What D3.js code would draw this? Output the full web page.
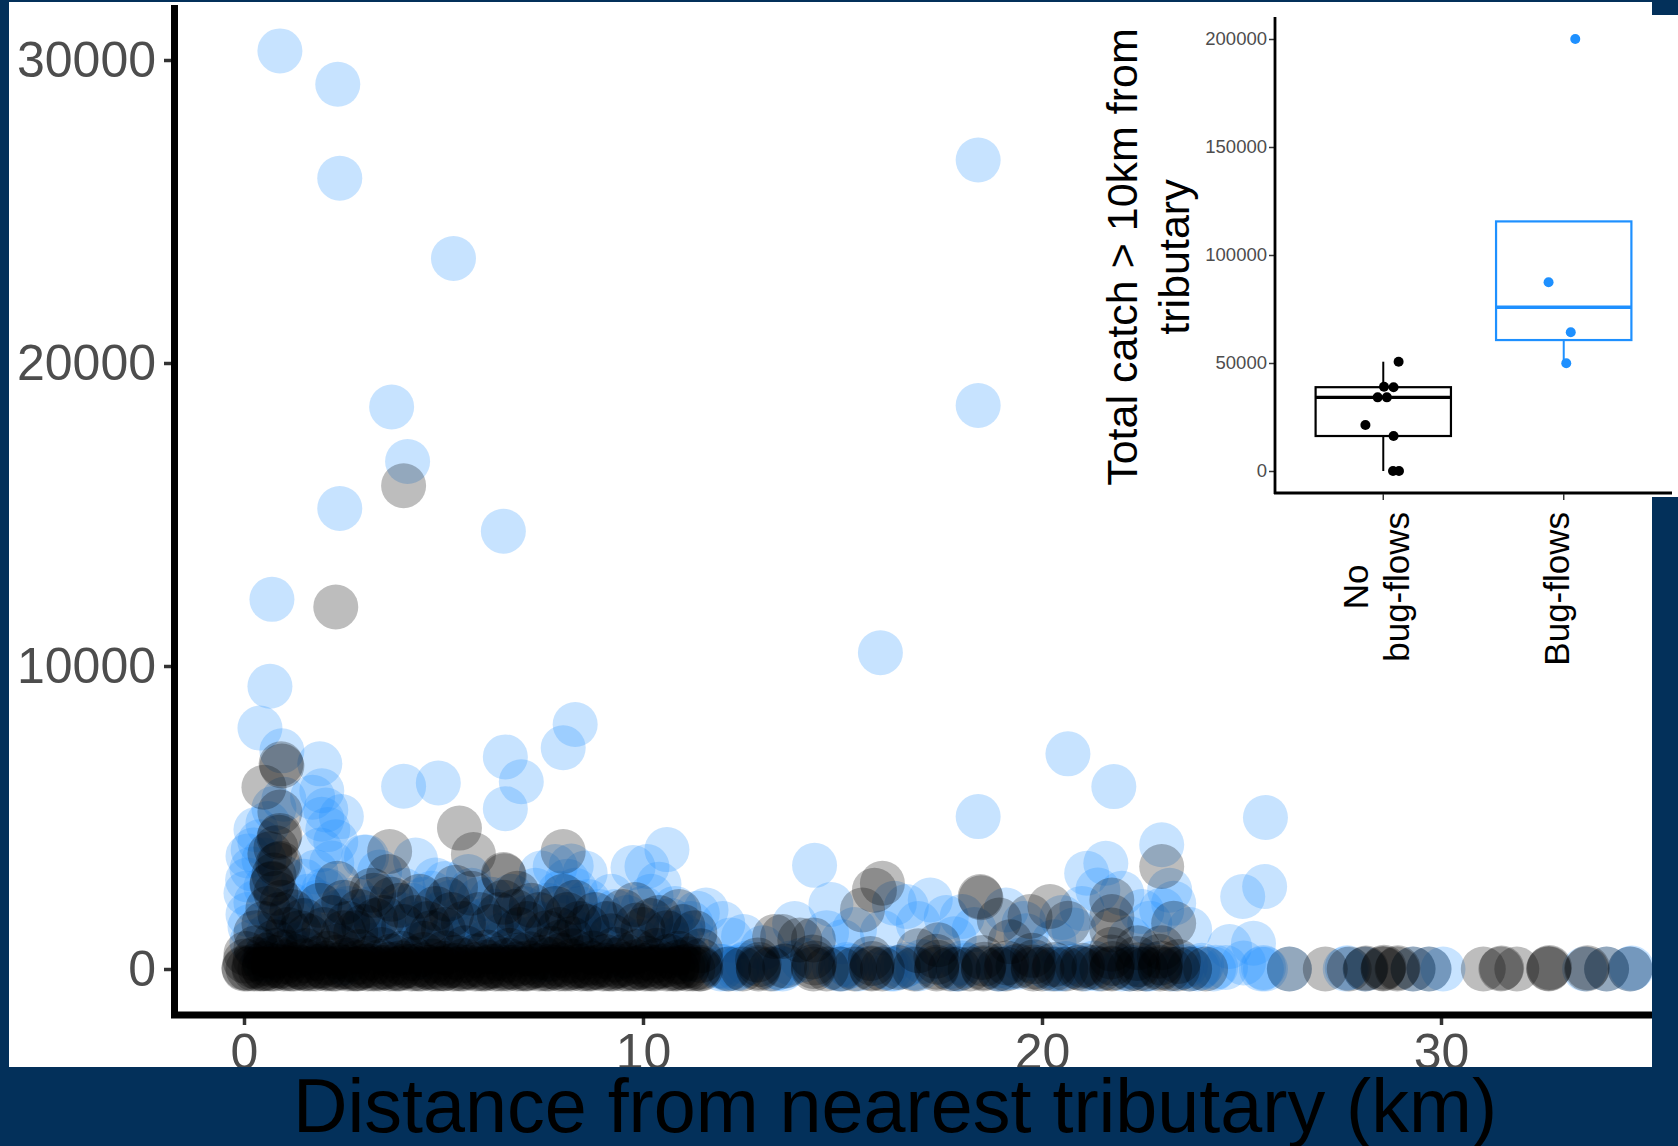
<!DOCTYPE html>
<html>
<head>
<meta charset="utf-8">
<script src="https://cdn.jsdelivr.net/npm/d3@7"></script>
<style>
  body { margin: 0; background: #03305a; }
  svg { display: block; }
</style>
</head>
<body>
<script>

// ---- main scatter data: [distance km, catch] ----

// isolated high points, bug-flow years
var blueUpper = [
  [0.9,30300],[2.35,29200],[2.4,26100],[5.25,23450],[3.7,18550],[4.1,16750],
  [2.4,15200],[6.5,14450],[0.7,12200],[0.65,9330],[0.4,7950],[0.95,7200],
  [1.9,6770],[1.95,5880],[4.0,6030],[4.87,6140],[6.55,7000],[6.95,6180],
  [6.55,5290],[8.3,8070],[8.0,7300],[18.4,26700],[18.4,18600],[15.95,10440],
  [20.65,7100],[21.8,6020],[18.4,5030],[25.6,5000]
];

var blueMid = [
  [0.3,4600],[0.1,3730],[0.23,3930],[0.09,2940],[0.5,3600],[0.6,4800],[1.0,5600],
  [0.2,3300],[0.05,2500],[0.3,2200],[0.1,1800],[1.0,3000],[0.75,5300],[0.4,4200],
  [0.15,1400],[0.55,2700],
  [2.05,5250],[2.44,5030],[1.95,4940],[1.72,5670],[2.1,4600],[1.91,3930],[2.2,3500],
  [1.8,3200],[2.3,4200],[2.0,2600],[2.11,2580],[1.85,2200],[1.5,2900],[2.6,2000],[1.3,1700],
  [3.0,3700],[3.07,3700],[3.4,3200],[4.3,3600],[4.8,2940],[5.04,2820],[5.62,3050],
  [5.7,2600],[4.0,2600],[4.5,2300],[3.2,2000],[6.2,2300],[7.0,2000],[7.45,3170],
  [7.8,3380],[8.55,3170],[8.63,2230],[8.2,3400],[8.1,2900],[7.9,2500],[8.4,2000],
  [9.3,1900],[9.75,3350],[10.1,3380],[10.6,3940],[10.2,2400],[10.8,2000],[11.36,1840],
  [6.0,1600],[4.9,1800],[3.8,1500],[2.7,1600],[5.3,1400],[7.4,1500],[9.0,1500],
  [10.5,1300],[6.6,1200],[8.8,1100],[11.0,1100],
  [0.2,900],[0.6,1100],[1.1,800],[1.7,1000],[2.2,900],[2.9,1100],[3.3,800],[3.7,1000],
  [4.1,1200],[4.6,900],[5.1,1000],[5.6,1200],[6.1,900],[6.4,1100],[6.8,800],[7.2,1000],
  [7.7,1100],[8.3,1200],[8.9,900],[9.4,1100],[9.9,900],[10.4,1000],[10.9,800],[11.3,900],
  [0.9,1500],[1.2,2100],[1.4,1600],[1.6,2400],[2.4,1900],[2.8,2300],[3.1,1700],[3.5,2400],
  [3.9,1800],[4.2,2100],[4.4,1500],[4.7,2500],[5.2,2200],[5.5,1700],[5.9,2300],[6.3,1900],
  [6.7,2400],[7.1,1700],[7.3,2600],[7.6,2100],[8.0,1700],[8.3,2600],[8.5,1500],[8.9,1900],
  [9.2,2400],[9.6,1700],[10.0,2000],[10.4,2800],[10.7,1600],[11.2,1500],[1.0,1000],
  [2.1,1100],[3.2,1000],[4.3,800],[5.4,1000],[6.5,900],[7.5,800],[8.7,1000],[9.7,800],
  [10.8,1200],
  [12.2,960],[12.52,1070],[11.58,1950],[14.3,3420],[14.71,2130],[16.3,2170],[16.6,2060],
  [17.2,2280],[18.0,1730],[19.1,1950],[19.55,1500],[20.8,1290],[21.12,3160],[21.6,3490],
  [21.4,2610],[23.0,4100],[23.0,1950],[23.3,2170],[22.7,1510],[24.7,740],[25.58,2720],
  [25.03,2390],[16.0,1200],[13.0,700],[15.0,900],[17.8,1000],[20.3,900],[22.2,1000],
  [25.3,850],[12.0,1500],[13.8,1500],[14.6,1200],[15.3,1300],[16.9,1500],[17.6,1700],
  [18.3,1300],[19.6,1100],[20.5,1700],[21.0,2000],[22.0,2500],[22.5,1900],[23.2,2600],
  [23.7,1300]
];

var blueBase = [
  [0.5,300],[1.5,500],[2.5,200],[3.5,600],[4.5,400],[5.5,700],[6.5,500],[7.5,300],
  [8.5,800],[9.5,400],[10.5,600],[11.2,300],
  [11.9,100],[12.1,0],[12.4,50],[12.6,200],[13.3,0],[13.6,100],[14.0,300],[14.9,0],
  [15.1,150],[15.4,0],[16.2,0],[16.5,80],[16.9,0],[17.0,250],[17.8,0],[18.1,120],
  [18.9,0],[19.2,50],[19.5,300],[20.2,0],[20.5,0],[20.8,100],[21.1,0],[21.3,200],
  [22.0,0],[22.3,60],[22.6,0],[23.3,0],[23.6,100],[23.9,0],[23.95,40],[24.3,0],
  [24.35,60],[24.6,50],
  [11.95,0],[12.0,80],[12.15,30],[12.35,0],[12.5,120],[13.4,50],[13.5,0],[13.7,200],
  [14.8,50],[15.0,0],[15.2,100],[16.1,60],[16.3,0],[16.6,150],[16.8,40],[17.7,80],
  [17.9,0],[18.0,200],[18.9,100],[19.0,0],[19.4,60],[20.1,100],[20.4,0],[20.6,180],
  [21.2,60],[21.4,0],[22.1,100],[22.2,0],[22.7,0],[22.8,150],[23.5,60],[23.7,0],[24.0,120],
  [25.05,200],[25.5,0],[25.55,50],[25.6,0],[26.2,0],[27.6,0],[27.65,40],[28.1,0],
  [29.3,0],[29.7,0],[30.05,0],[33.6,0],[34.15,0],[34.74,0],[34.78,30]
];

// no bug-flow years
var blackUpper = [
  [4.0,15950],[2.3,11950],[0.93,6770],[0.95,6700],[0.5,6000],[0.9,5180],[0.9,4410],
  [0.88,4350],[5.4,4650],[5.75,3780],[6.5,3120],[6.52,3080],[6.85,2500],[8.0,3880],
  [3.65,3880],[3.62,3050],[3.25,2430],[0.9,3490],[0.85,3450],[0.71,2830],[0.7,2800],
  [2.34,2830],[0.8,4000],[0.75,3100],[0.95,2200],[0.65,3800]
];

var blackMid = [
  [0.6,2000],[0.9,1800],[0.5,1500],[0.8,2500],[0.3,1200],[1.1,1300],[1.6,1100],
  [2.0,1300],[2.5,1200],[3.0,1400],[3.5,1700],[3.9,2100],[4.3,1700],[4.8,2000],
  [5.0,1300],[5.2,1800],[5.9,1800],[6.5,2200],[6.9,1300],[7.2,2100],[7.6,1200],
  [8.0,2400],[8.1,1800],[7.9,1300],[8.2,1000],[8.6,1400],[9.2,1100],[9.8,2130],
  [9.84,1450],[10.2,1600],[10.6,1200],[11.0,1400],[4.6,1500],[2.8,1200],[1.4,1200],
  [1.2,1900],[1.5,1600],[1.9,2100],[2.2,1700],[2.6,1500],[2.9,1900],[3.3,1600],[3.7,2300],
  [4.0,1400],[4.4,2400],[4.7,1200],[5.1,2300],[5.5,1500],[5.7,2500],[6.2,1400],[6.4,1800],
  [6.8,1900],[7.1,1500],[7.4,1800],[7.8,2000],[8.3,2200],[8.4,1500],[8.8,1800],[9.1,1500],
  [9.5,1900],[10.0,1300],[10.4,1700],[10.9,1900],[11.3,1200],[3.2,2600],[5.3,2700],[2.5,2200],
  [16.0,2830],[18.45,2390],[18.47,2350],[23.0,3380],[21.75,2280],[20.65,1510],
  [19.7,1730],[20.2,2060],[15.5,1950],[15.8,2600],[21.75,1730],[21.75,1290],
  [13.3,1070],[13.93,960],[14.27,960],[13.5,1070],[18.93,1620],[23.3,1510],
  [17.4,800],[19.2,900],[22.4,700],[16.9,600]
];

var blackBase = [
  [0.0,0],[0.0,40],[0.03,260],[0.05,510],
  [0.25,0],[0.25,90],[0.28,330],[0.3,700],
  [0.5,0],[0.5,20],[0.52,180],[0.55,450],
  [0.75,0],[0.75,110],[0.78,380],[0.8,620],[0.78,900],
  [1.0,0],[1.0,60],[1.02,240],[1.05,560],
  [1.25,0],[1.27,150],[1.3,420],
  [1.5,0],[1.5,30],[1.52,270],[1.55,610],
  [1.8,0],[1.8,80],[1.83,350],
  [2.05,0],[2.05,40],[2.08,200],[2.1,520],
  [2.3,0],[2.32,130],[2.35,400],[2.35,760],
  [2.6,0],[2.6,70],[2.62,300],
  [2.85,0],[2.85,20],[2.88,220],[2.9,580],
  [3.1,0],[3.12,110],[3.15,360],
  [3.4,0],[3.4,50],[3.42,250],[3.45,640],
  [3.65,0],[3.67,160],[3.7,430],
  [3.9,0],[3.9,30],[3.93,210],[3.95,520],
  [4.2,0],[4.2,90],[4.23,340],
  [4.45,0],[4.47,140],[4.5,480],[4.5,850],
  [4.7,0],[4.7,60],[4.73,260],
  [5.0,0],[5.0,20],[5.02,190],[5.05,540],
  [5.25,0],[5.27,120],[5.3,390],
  [5.5,0],[5.5,70],[5.52,280],[5.55,700],
  [5.8,0],[5.82,150],[5.85,440],
  [6.05,0],[6.05,40],[6.08,230],[6.1,560],
  [6.3,0],[6.32,100],[6.35,350],
  [6.6,0],[6.6,60],[6.62,290],[6.65,620],
  [6.85,0],[6.87,170],[6.9,460],
  [7.1,0],[7.1,30],[7.12,210],[7.15,500],
  [7.4,0],[7.42,120],[7.45,380],
  [7.65,0],[7.65,80],[7.68,320],[7.7,680],
  [7.9,0],[7.92,140],[7.95,450],[7.95,900],
  [8.2,0],[8.2,50],[8.22,260],[8.25,600],
  [8.45,0],[8.47,110],[8.5,370],
  [8.7,0],[8.7,40],[8.72,200],[8.75,530],
  [9.0,0],[9.02,130],[9.05,410],
  [9.25,0],[9.25,70],[9.28,300],[9.3,650],
  [9.5,0],[9.52,160],[9.55,440],
  [9.8,0],[9.8,30],[9.82,240],[9.85,580],
  [10.05,0],[10.07,120],[10.1,360],
  [10.3,0],[10.3,60],[10.32,270],[10.35,620],
  [10.6,0],[10.62,140],[10.65,420],
  [10.85,0],[10.85,40],[10.88,230],[10.9,520],
  [11.1,0],[11.12,100],[11.15,340],
  [11.4,0],[11.42,60],[11.45,280],[11.45,600],
  [0.1,0],[0.4,0],[0.65,0],[0.9,100],[1.15,0],[1.4,60],[1.65,0],[1.95,100],[2.2,0],
  [2.45,60],[2.75,0],[3.0,90],[3.25,0],[3.55,60],[3.8,0],[4.05,100],[4.35,0],[4.6,60],
  [4.85,0],[5.15,100],[5.4,0],[5.65,60],[5.95,0],[6.2,90],[6.45,0],[6.75,60],[7.0,0],
  [7.3,100],[7.55,0],[7.8,60],[8.05,0],[8.35,90],[8.6,0],[8.85,60],[9.15,0],[9.4,100],
  [9.65,0],[9.95,60],[10.2,0],[10.45,90],[10.75,0],[11.0,60],[11.25,0],[11.45,0],
  [12.89,0],[12.89,50],[12.91,150],[12.87,300],
  [14.27,0],[14.27,80],[14.3,200],[14.25,400],
  [15.73,0],[15.73,30],[15.75,180],[15.7,350],
  [17.36,0],[17.36,60],[17.38,220],[17.34,420],
  [18.53,0],[18.53,40],[18.55,160],[18.5,380],
  [19.1,0],[19.12,200],
  [19.78,0],[19.78,70],[19.8,240],[19.76,450],
  [20.3,0],[20.32,150],
  [21.0,0],[21.02,120],
  [21.75,0],[21.75,30],[21.77,180],[21.73,400],[21.75,650],
  [22.4,0],[22.42,140],[22.38,350],
  [22.96,0],[22.96,50],[22.98,200],[22.94,420],[23.0,700],
  [23.4,0],[23.42,250],
  [12.15,0],[13.55,100],[14.95,0],[16.4,50],[17.9,0],[19.4,100],[20.6,0],[21.3,50],
  [22.6,0],[23.7,0],
  [12.5,0],[13.2,0],[14.6,0],[15.3,0],[16.0,0],[16.8,0],[17.7,0],[18.2,0],[18.9,0],
  [20.0,0],[20.9,50],[21.5,0],[22.2,0],[23.2,0],
  [24.1,0],
  [26.2,0],[27.1,0],[27.7,0],[28.1,0],[28.12,30],[28.55,0],[28.55,20],[28.57,60],
  [28.9,0],[28.92,40],[29.3,0],[29.7,0],[31.06,0],[31.5,0],[31.52,30],[31.9,0],
  [32.7,0],[32.7,20],[32.72,50],[33.65,0],[33.67,40],[34.15,0],[34.74,0]
];

var xTicks = [0, 10, 20, 30];
var yTicks = [0, 10000, 20000, 30000];

// ---- inset data ----
var groups = ["No\nbug-flows", "Bug-flows"];
var noBugCatch  = [50600, 39000, 38800, 34100, 34100, 21300, 16200, 0, 0];
var noBugJitter = [0.085, 0.004, 0.057, -0.031, 0.02, -0.099, 0.057, 0.054, 0.087];
var bugCatch    = [200000, 87400, 64200, 49900];
var bugJitter   = [0.064, -0.084, 0.039, 0.014];
var insetTicks  = [0, 50000, 100000, 150000, 200000];

var colors = ["#000000", "#1e90ff"];
var font = "'Liberation Sans', Arial, sans-serif";

var width = 1678, height = 1146;

var svg = d3.select("body").append("svg")
            .attr("width", width)
            .attr("height", height);

svg.append("rect").attr("width", width).attr("height", height).style("fill", "#03305a");

svg.append("defs").append("clipPath").attr("id", "panel")
   .append("rect").attr("x", 9).attr("y", 2).attr("width", 1643).attr("height", 1065);

var main = svg.append("g").attr("clip-path", "url(#panel)");

main.append("rect").attr("x", 9).attr("y", 2).attr("width", 1643).attr("height", 1065)
    .style("fill", "white");

var x = d3.scaleLinear().domain([0, 30]).range([244, 1441]);
var y = d3.scaleLinear().domain([0, 30000]).range([969, 60]);

// points: blue first, black drawn over
var bluePts = blueBase.concat(blueMid, blueUpper);
var blackPts = blackBase.concat(blackMid, blackUpper);

main.append("g").selectAll("circle")
    .data(bluePts)
    .enter().append("circle")
    .attr("cx", function (d) { return x(d[0]); })
    .attr("cy", function (d) { return y(d[1]); })
    .attr("r", 22.5)
    .style("fill", colors[1])
    .style("fill-opacity", 0.25);

main.append("g").selectAll("circle")
    .data(blackPts)
    .enter().append("circle")
    .attr("cx", function (d) { return x(d[0]); })
    .attr("cy", function (d) { return y(d[1]); })
    .attr("r", 22.5)
    .style("fill", colors[0])
    .style("fill-opacity", 0.26);

// axes
var yAxis = main.append("g")
    .attr("transform", "translate(171,0)")
    .call(d3.axisLeft(y).tickValues(yTicks).tickSize(7).tickPadding(8).tickFormat(d3.format("d")));

var xAxis = main.append("g")
    .attr("transform", "translate(0,1018)")
    .call(d3.axisBottom(x).tickValues(xTicks).tickSize(7).tickPadding(8));

[yAxis, xAxis].forEach(function (g) {
  g.select(".domain").remove();
  g.selectAll(".tick line").style("stroke", "#333").style("stroke-width", 3.5);
  g.selectAll(".tick text").style("font-family", font).style("font-size", "50px")
   .style("fill", "#4d4d4d");
});

main.append("line").attr("x1", 174.5).attr("x2", 174.5).attr("y1", 5).attr("y2", 1018)
    .style("stroke", "black").style("stroke-width", 7);
main.append("line").attr("x1", 171).attr("x2", 1660).attr("y1", 1015).attr("y2", 1015)
    .style("stroke", "black").style("stroke-width", 7);

svg.append("text")
   .attr("x", 895).attr("y", 1132)
   .attr("text-anchor", "middle")
   .style("font-family", font).style("font-size", "75.5px").style("fill", "black")
   .text("Distance from nearest tributary (km)");

// ---- inset ----
var inset = svg.append("g");

inset.append("rect").attr("x", 1095).attr("y", 15).attr("width", 583).attr("height", 482)
     .style("fill", "white");

var ix = d3.scaleLinear().domain([0.4, 2.6]).range([1275, 1672]);
var iy = d3.scaleLinear().domain([0, 200000]).range([471, 39]);

function boxStats(v) {
  var s = v.slice().sort(d3.ascending);
  var q1 = d3.quantile(s, 0.25), med = d3.quantile(s, 0.5), q3 = d3.quantile(s, 0.75);
  var iqr = q3 - q1;
  var inside = s.filter(function (d) { return d >= q1 - 1.5 * iqr && d <= q3 + 1.5 * iqr; });
  return { q1: q1, med: med, q3: q3,
           lo: Math.min(q1, d3.min(inside)),
           hi: Math.max(q3, d3.max(inside)) };
}

var sets = [
  { catch: noBugCatch, jitter: noBugJitter, color: colors[0] },
  { catch: bugCatch, jitter: bugJitter, color: colors[1] }
];

sets.forEach(function (set, i) {
  var pos = i + 1;
  var st = boxStats(set.catch);
  var g = inset.append("g");
  g.append("line").attr("x1", ix(pos)).attr("x2", ix(pos))
   .attr("y1", iy(st.q3)).attr("y2", iy(st.hi))
   .style("stroke", set.color).style("stroke-width", 2);
  g.append("line").attr("x1", ix(pos)).attr("x2", ix(pos))
   .attr("y1", iy(st.q1)).attr("y2", iy(st.lo))
   .style("stroke", set.color).style("stroke-width", 2);
  g.append("rect")
   .attr("x", ix(pos - 0.375)).attr("width", ix(pos + 0.375) - ix(pos - 0.375))
   .attr("y", iy(st.q3)).attr("height", iy(st.q1) - iy(st.q3))
   .style("fill", "white").style("stroke", set.color).style("stroke-width", 2.2);
  g.append("line")
   .attr("x1", ix(pos - 0.375)).attr("x2", ix(pos + 0.375))
   .attr("y1", iy(st.med)).attr("y2", iy(st.med))
   .style("stroke", set.color).style("stroke-width", 3.4);
  g.selectAll("circle")
   .data(set.catch)
   .enter().append("circle")
   .attr("cx", function (d, j) { return ix(pos + set.jitter[j]); })
   .attr("cy", function (d) { return iy(d); })
   .attr("r", 5)
   .style("fill", set.color);
});

var iyAxis = inset.append("g")
    .attr("transform", "translate(1275,0)")
    .call(d3.axisLeft(iy).tickValues(insetTicks).tickSize(6).tickPadding(2).tickFormat(d3.format("d")));
iyAxis.select(".domain").remove();
iyAxis.selectAll(".tick line").style("stroke", "#333").style("stroke-width", 1.5);
iyAxis.selectAll(".tick text").style("font-family", font).style("font-size", "18.5px")
      .style("fill", "#4d4d4d");

inset.append("line").attr("x1", 1275).attr("x2", 1275).attr("y1", 17).attr("y2", 494)
     .style("stroke", "black").style("stroke-width", 2.8);
inset.append("line").attr("x1", 1274).attr("x2", 1672).attr("y1", 493).attr("y2", 493)
     .style("stroke", "black").style("stroke-width", 2.8);

groups.forEach(function (label, i) {
  var px = ix(i + 1);
  inset.append("line").attr("x1", px).attr("x2", px).attr("y1", 494).attr("y2", 500)
       .style("stroke", "#333").style("stroke-width", 1.5);
  var lines = label.split("\n");
  var texts = lines.map(function (t) {
    return inset.append("text")
      .attr("text-anchor", "middle")
      .style("font-family", font).style("font-size", "35px").style("fill", "black")
      .text(t);
  });
  var maxLen = d3.max(texts, function (t) { return t.node().getComputedTextLength(); });
  texts.forEach(function (t, k) {
    var bx = px + 5.5 + (k - (lines.length - 1) / 2) * 41;
    t.attr("transform", "translate(" + bx + "," + (512 + maxLen / 2) + ") rotate(-90)");
  });
});

["Total catch > 10km from", "tributary"].forEach(function (t, k) {
  inset.append("text")
       .attr("text-anchor", "middle")
       .attr("transform", "translate(" + (1137 + k * 52) + ",257) rotate(-90)")
       .style("font-family", font).style("font-size", "43px").style("fill", "black")
       .text(t);
});

</script>
</body>
</html>
